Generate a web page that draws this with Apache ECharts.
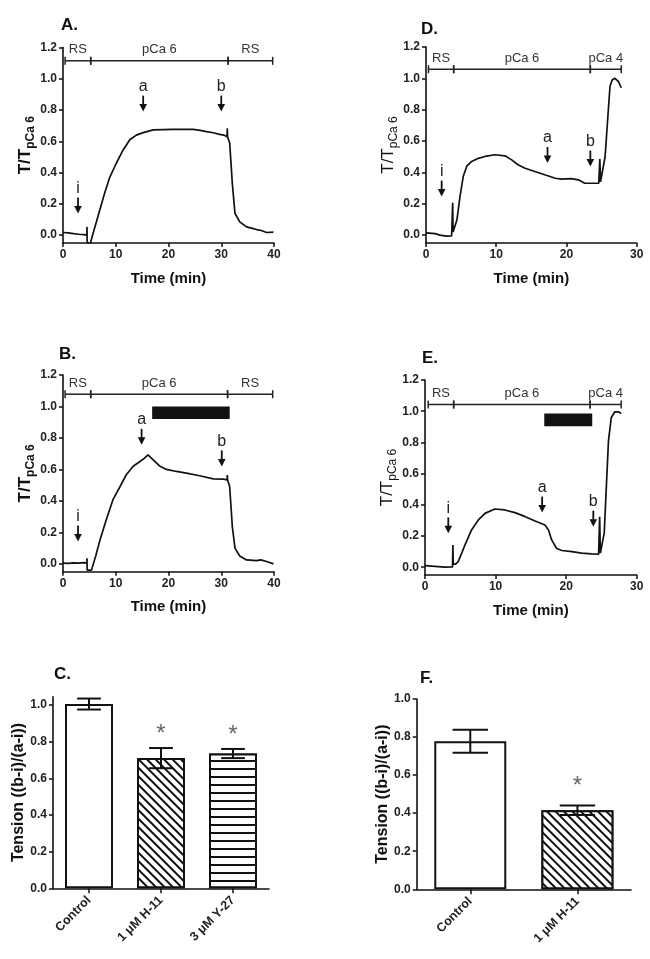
<!DOCTYPE html>
<html><head><meta charset="utf-8">
<script src="https://cdn.jsdelivr.net/npm/echarts@6/dist/echarts.min.js"></script>
<style>html,body{margin:0;padding:0;background:#fff}#c{width:650px;height:959px}</style>
</head><body><div id="c"></div>
<script>
// ---------- DATA ----------
// Panel A trace (time, T/TpCa6)
const traceA_t = [0,1,2,3,4,4.5,4.55,4.58,5.2,5.6,6.2,6.96,7.9,8.86,10.1,11.4,12.66,13.9,15.2,17.1,19,20.9,22.8,24.7,26,27.2,28.5,29.7,30.5,31.1,31.15,31.2,31.6,32.1,32.6,33.5,34.8,35.7,36.7,37.6,38.6,39.9];
const traceA_v = [0.017,0.015,0.01,0.006,0.003,0.0,0.053,-0.05,-0.05,0.0,0.07,0.16,0.27,0.37,0.46,0.545,0.61,0.64,0.656,0.673,0.675,0.677,0.676,0.677,0.67,0.662,0.655,0.645,0.64,0.63,0.684,0.63,0.59,0.33,0.14,0.085,0.053,0.045,0.036,0.03,0.017,0.02];
// Panel B trace
const traceB_t = [0,1,2,3,4,4.5,4.55,4.58,5.4,6.2,7,8.2,9.5,10.8,12,13.3,14.6,15.4,16.1,17.1,18.4,19.6,21.5,23.4,25.9,28.5,30.4,31.1,31.15,31.2,31.6,32.1,32.6,33.5,34.8,36.7,37.5,38.6,39.9];
const traceB_v = [0.005,0.003,0.006,0.004,0.008,0.005,0.035,-0.04,-0.04,0.05,0.15,0.28,0.41,0.49,0.566,0.62,0.65,0.67,0.693,0.66,0.62,0.6,0.587,0.576,0.56,0.54,0.538,0.534,0.565,0.534,0.49,0.237,0.1,0.05,0.025,0.02,0.025,0.015,0.0];
// Panel D trace
const traceD_t = [0,1.3,2,2.9,3.65,3.75,3.8,3.85,4.0,4.4,4.84,5.3,5.8,6.5,7.45,8.4,9.8,11.25,12.2,13.1,14.1,15.5,16.9,18.4,19.3,20.7,21.7,22.6,23.6,24.6,24.75,24.85,25.0,25.5,25.9,26.2,26.5,26.9,27.4,27.8];
const traceD_v = [0.015,0.01,0.0,-0.006,-0.004,0.0,0.207,0.02,0.03,0.096,0.246,0.374,0.44,0.47,0.49,0.502,0.513,0.506,0.48,0.449,0.427,0.406,0.385,0.363,0.357,0.361,0.353,0.331,0.331,0.332,0.485,0.34,0.34,0.5,0.76,0.95,0.99,1.0,0.98,0.94];
// Panel E trace
const traceE_t = [0,1.4,2.8,3.9,3.95,4.0,4.06,4.35,4.7,5.2,5.67,6.6,7.56,8.5,9.9,11.3,12.75,14.2,15.6,17,17.5,17.95,18.66,19.4,20.8,22.2,23.6,24.6,24.75,24.85,25.0,25.4,25.7,26,26.4,26.9,27.4,27.8];
const traceE_v = [0.01,0.005,0.0,0.002,0.143,0.02,0.02,0.02,0.036,0.09,0.143,0.239,0.303,0.345,0.373,0.367,0.35,0.324,0.296,0.27,0.239,0.175,0.12,0.107,0.1,0.09,0.085,0.083,0.324,0.09,0.09,0.22,0.516,0.81,0.96,0.996,0.996,0.985];

// Solution bars (segment boundaries in min, level, labels)
const condA_bounds = [0.4,5.25,31.3,39.75]; const condA_level = 1.115; const condA_labels = ['RS','pCa 6','RS'];
const condB_bounds = [0.4,5.25,31.2,39.75]; const condB_level = 1.078; const condB_labels = ['RS','pCa 6','RS'];
const condD_bounds = [0.35,3.94,23.4,27.8]; const condD_level = 1.058; const condD_labels = ['RS','pCa 6','pCa 4'];
const condE_bounds = [0.45,4.06,23.4,27.8]; const condE_level = 1.043; const condE_labels = ['RS','pCa 6','pCa 4'];

// Arrows (time, tip value, label)
const arrowA_t = [2.85,15.2,30.0]; const arrowA_v = [0.139,0.79,0.79]; const arrowA_lab = ['i','a','b'];
const arrowB_t = [2.85,14.9,30.1]; const arrowB_v = [0.142,0.756,0.619]; const arrowB_lab = ['i','a','b'];
const arrowD_t = [2.23,17.3,23.4]; const arrowD_v = [0.246,0.46,0.438]; const arrowD_lab = ['i','a','b'];
const arrowE_t = [3.3,16.6,23.85]; const arrowE_v = [0.217,0.35,0.26]; const arrowE_lab = ['i','a','b'];

// Drug application bars [t start, t end, low, high]
const drugB = [16.9,31.6,0.92,1.0];
const drugE = [16.9,23.7,0.904,0.985];

// Bar charts
const catsC = ['Control','1 \u03bcM H-11','3 \u03bcM Y-27'];
const meanC = [1.005,0.71,0.735];
const semC  = [0.03,0.055,0.025];
const sigC  = [false,true,true];
const catsF = ['Control','1 \u03bcM H-11'];
const meanF = [0.778,0.415];
const semF  = [0.06,0.025];
const sigF  = [false,true];

const traceTicks = [0,0.2,0.4,0.6,0.8,1.0,1.2];
const barTicks = [0,0.2,0.4,0.6,0.8,1.0];

// ---------- STYLE / BUILD ----------
const FONT = '"Liberation Sans", Arial, Helvetica, sans-serif';
const INK = '#111';
const zip = (a,b) => a.map((x,i)=>[x,b[i]]);

const grids = [
  {left:63, top:47.5, width:211, height:195.5},     // A
  {left:426, top:47, width:210.7, height:196},      // D
  {left:63, top:375, width:211, height:196.7},      // B
  {left:425, top:380, width:211.7, height:195},     // E
  {left:53, top:696.7, width:216, height:191.6},    // C
  {left:416.7, top:699, width:214.3, height:190.3}  // F
];

function timeAxis(gi, max) {
  return {type:'value', gridIndex:gi, min:0, max:max, interval:10,
    name:'Time (min)', nameLocation:'middle', nameGap:28,
    nameTextStyle:{fontFamily:FONT, fontSize:15, fontWeight:'bold', color:INK},
    axisLine:{show:true, onZero:false, lineStyle:{color:INK, width:1.6}},
    axisTick:{show:true, length:4, lineStyle:{color:INK, width:1.5}},
    axisLabel:{fontFamily:FONT, fontSize:12, fontWeight:'bold', color:'#222', margin:6},
    splitLine:{show:false}};
}
function ttAxis(gi, bold) {
  const w = bold ? 'bold' : 'normal';
  return {type:'value', gridIndex:gi, min:-0.05, max:1.2,
    name:'{m|T/T}{s|pCa 6}', nameLocation:'middle', nameRotate:90, nameGap:26,
    nameTextStyle:{rich:{
      m:{fontFamily:FONT, fontSize:17, fontWeight:w, color:INK, lineHeight:22, verticalAlign:'middle'},
      s:{fontFamily:FONT, fontSize:12, fontWeight:w, color:INK, lineHeight:14, verticalAlign:'bottom'}}},
    axisLine:{show:true, onZero:false, lineStyle:{color:INK, width:1.6}},
    axisTick:{show:true, length:4, customValues:traceTicks, lineStyle:{color:INK, width:1.5}},
    axisLabel:{customValues:traceTicks, formatter:v=>v.toFixed(1), fontFamily:FONT, fontSize:12, fontWeight:'bold', color:'#222', margin:6},
    splitLine:{show:false}};
}
function catAxis(gi, cats) {
  return {type:'category', gridIndex:gi, data:cats, boundaryGap:true,
    axisLine:{show:true, onZero:false, lineStyle:{color:INK, width:1.6}},
    axisTick:{show:true, alignWithLabel:true, length:5, lineStyle:{color:INK, width:1.5}},
    axisLabel:{rotate:45, fontFamily:FONT, fontSize:12.5, fontWeight:'bold', color:'#222', margin:10, interval:0},
    splitLine:{show:false}};
}
function tensionAxis(gi, max) {
  return {type:'value', gridIndex:gi, min:0, max:max,
    name:'Tension ((b-i)/(a-i))', nameLocation:'middle', nameRotate:90, nameGap:26,
    nameTextStyle:{fontFamily:FONT, fontSize:16, fontWeight:'bold', color:INK},
    axisLine:{show:true, onZero:false, lineStyle:{color:INK, width:1.6}},
    axisTick:{show:true, length:4, customValues:barTicks, lineStyle:{color:INK, width:1.5}},
    axisLabel:{customValues:barTicks, formatter:v=>v.toFixed(1), fontFamily:FONT, fontSize:12, fontWeight:'bold', color:'#222', margin:6},
    splitLine:{show:false}};
}

function traceSeries(gi, t, v, drug) {
  const s = {type:'line', xAxisIndex:gi, yAxisIndex:gi, data:zip(t,v), showSymbol:false, symbol:'none',
    lineStyle:{color:INK, width:1.7}, z:3, animation:false};
  if (drug) {
    s.markArea = {silent:true, itemStyle:{color:INK, opacity:1}, data:[[{coord:[drug[0],drug[3]]},{coord:[drug[1],drug[2]]}]]};
  }
  return s;
}
function condSeries(gi, bounds, level, labels) {
  const data = [];
  for (let i=0;i<labels.length;i++) data.push([bounds[i], bounds[i+1], level, i]);
  return {type:'custom', xAxisIndex:gi, yAxisIndex:gi, data:data, animation:false, silent:true,
    encode:{x:[0,1], y:2},
    renderItem:(params, api)=>{
      const s = api.coord([api.value(0), api.value(2)]);
      const e = api.coord([api.value(1), api.value(2)]);
      const st = {stroke:'#222', lineWidth:1.5};
      return {type:'group', children:[
        {type:'line', shape:{x1:s[0],y1:s[1],x2:e[0],y2:e[1]}, style:st},
        {type:'line', shape:{x1:s[0],y1:s[1]-4,x2:s[0],y2:s[1]+4}, style:st},
        {type:'line', shape:{x1:e[0],y1:e[1]-4,x2:e[0],y2:e[1]+4}, style:st},
        {type:'text', x:(s[0]+e[0])/2, y:s[1]-11, style:{text:labels[api.value(3)], fill:'#333',
          fontFamily:FONT, fontSize:13, align:'center', verticalAlign:'middle'}}
      ]};
    }};
}
function arrowSeries(gi, t, v, labs) {
  const data = t.map((x,i)=>[x, v[i], i]);
  return {type:'custom', xAxisIndex:gi, yAxisIndex:gi, data:data, animation:false, silent:true,
    encode:{x:0, y:1},
    renderItem:(params, api)=>{
      const p = api.coord([api.value(0), api.value(1)]);
      const x = p[0], y = p[1];
      return {type:'group', children:[
        {type:'line', shape:{x1:x,y1:y-16,x2:x,y2:y-5}, style:{stroke:INK, lineWidth:1.8}},
        {type:'polygon', shape:{points:[[x-3.8,y-7.5],[x+3.8,y-7.5],[x,y]]}, style:{fill:INK}},
        {type:'text', x:x, y:y-25, style:{text:labs[api.value(2)], fill:'#222',
          fontFamily:FONT, fontSize:16, align:'center', verticalAlign:'middle'}}
      ]};
    }};
}
function barSeries(gi, means, width) {
  const decals = [null,
    {symbol:'rect', symbolSize:1, dashArrayX:[1,0], dashArrayY:[1.6,4], rotation:Math.PI/4, color:INK, backgroundColor:'#fff'},
    {symbol:'rect', symbolSize:1, dashArrayX:[1,0], dashArrayY:[1.8,5.2], rotation:0, color:INK, backgroundColor:'#fff'}];
  return {type:'bar', xAxisIndex:gi, yAxisIndex:gi, barWidth:width, animation:false,
    data:means.map((m,i)=>{
      const it = {color:'#fff', borderColor:INK, borderWidth:2};
      if (decals[i]) it.decal = decals[i];
      return {value:m, itemStyle:it};
    })};
}
function errSeries(gi, means, sems, sig, starGap) {
  return {type:'custom', xAxisIndex:gi, yAxisIndex:gi, z:4, animation:false, silent:true,
    data:means.map((m,i)=>[i, m, sems[i]]),
    encode:{x:0, y:1},
    renderItem:(params, api)=>{
      const i = api.value(0), m = api.value(1), e = api.value(2);
      const top = api.coord([i, m+e]), bot = api.coord([i, m-e]);
      const hw = api.size([1,0])[0]*0.165;
      const st = {stroke:INK, lineWidth:2};
      const ch = [
        {type:'line', shape:{x1:top[0],y1:top[1],x2:bot[0],y2:bot[1]}, style:st},
        {type:'line', shape:{x1:top[0]-hw,y1:top[1],x2:top[0]+hw,y2:top[1]}, style:st},
        {type:'line', shape:{x1:bot[0]-hw,y1:bot[1],x2:bot[0]+hw,y2:bot[1]}, style:st}
      ];
      if (sig[params.dataIndex]) ch.push({type:'text', x:top[0], y:top[1]-starGap,
        style:{text:'*', fill:'#666', fontFamily:FONT, fontSize:24, align:'center', verticalAlign:'middle'}});
      return {type:'group', children:ch};
    }};
}

const titleStyle = {fontFamily:FONT, fontSize:17, fontWeight:'bold', color:INK};
const option = {
  backgroundColor:'#fff',
  animation:false,
  title:[
    {text:'A.', left:56, top:12, textStyle:titleStyle},
    {text:'D.', left:416, top:16, textStyle:titleStyle},
    {text:'B.', left:54, top:341, textStyle:titleStyle},
    {text:'E.', left:417, top:345, textStyle:titleStyle},
    {text:'C.', left:49, top:661, textStyle:titleStyle},
    {text:'F.', left:415, top:665, textStyle:titleStyle}
  ],
  grid: grids,
  xAxis:[timeAxis(0,40), timeAxis(1,30), timeAxis(2,40), timeAxis(3,30), catAxis(4,catsC), catAxis(5,catsF)],
  yAxis:[ttAxis(0,true), ttAxis(1,false), ttAxis(2,true), ttAxis(3,false), tensionAxis(4,1.045), tensionAxis(5,1.0)],
  series:[
    traceSeries(0, traceA_t, traceA_v, null),
    condSeries(0, condA_bounds, condA_level, condA_labels),
    arrowSeries(0, arrowA_t, arrowA_v, arrowA_lab),
    traceSeries(1, traceD_t, traceD_v, null),
    condSeries(1, condD_bounds, condD_level, condD_labels),
    arrowSeries(1, arrowD_t, arrowD_v, arrowD_lab),
    traceSeries(2, traceB_t, traceB_v, drugB),
    condSeries(2, condB_bounds, condB_level, condB_labels),
    arrowSeries(2, arrowB_t, arrowB_v, arrowB_lab),
    traceSeries(3, traceE_t, traceE_v, drugE),
    condSeries(3, condE_bounds, condE_level, condE_labels),
    arrowSeries(3, arrowE_t, arrowE_v, arrowE_lab),
    barSeries(4, meanC, 48),
    errSeries(4, meanC, semC, sigC, 14),
    barSeries(5, meanF, 72),
    errSeries(5, meanF, semF, sigF, 19)
  ]
};
const chart = echarts.init(document.getElementById('c'), null, {renderer:'canvas'});
chart.setOption(option);
</script></body></html>
